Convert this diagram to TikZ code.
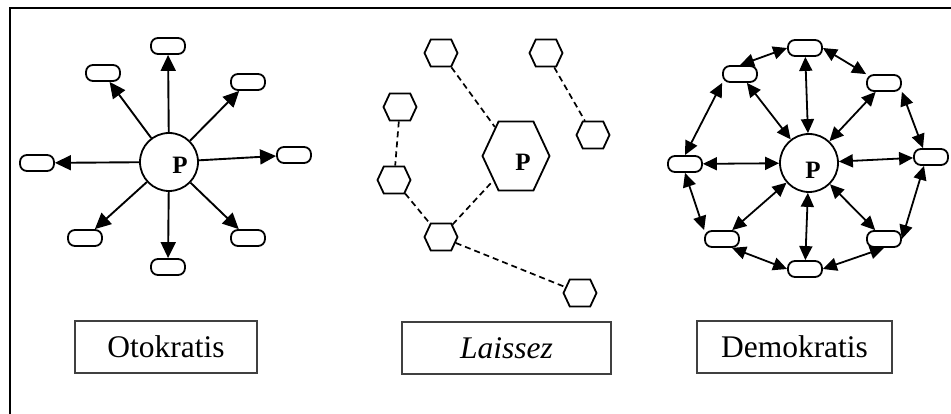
\documentclass[tikz,border=0pt]{standalone}
\usepackage{fontspec}
\setmainfont{Liberation Serif}
\usetikzlibrary{arrows.meta,shapes.symbols}
\tikzset{
  pill/.style={draw, line width=1.8pt, rectangle, rounded corners=7pt, minimum width=34pt, minimum height=16pt, inner sep=0pt, fill=white},
  pcirc/.style={draw, line width=1.8pt, circle, minimum size=58pt, inner sep=0pt},
  hexa/.style={draw, line width=1.8pt, signal, signal to=east and west, signal pointer angle=130, minimum width=33pt, minimum height=27pt, inner sep=0pt},
  bighexa/.style={hexa, minimum width=67pt, minimum height=69pt},
  oarrow/.style={line width=1.9pt, -{Triangle[length=16pt,width=15pt]}},
  darrow/.style={line width=1.8pt, {Triangle[length=14pt,width=13pt]}-{Triangle[length=14pt,width=13pt]}},
  dline/.style={line width=1.7pt, dash pattern=on 6pt off 4pt},
  labelbox/.style={draw=black!75, line width=1.1pt, rectangle, inner sep=0pt, font=\fontsize{31.5}{36}\selectfont},
  pletter/.style={font=\fontsize{25}{27}\selectfont\bfseries},
  frameline/.style={line width=2.4pt}
}
\begin{document}
\begin{tikzpicture}[x=1pt,y=-1pt]
\useasboundingbox (0,0) rectangle (951,414);
% frame
\coordinate (fa) at (951,8);
\coordinate (fb) at (10,8);
\coordinate (fc) at (10,414);
\draw[frameline] (fa) -- (fb) -- (fc);

% ---------- Otokratis ----------
\node[pcirc] (oc) at (169,162) {};
\node[pletter] (op) at (180,165) {P};
\node[pill] (o1) at (168,46) {};
\node[pill] (o2) at (103,73) {};
\node[pill] (o3) at (248,82) {};
\node[pill] (o4) at (37,163) {};
\node[pill] (o5) at (294,155) {};
\node[pill] (o6) at (85,238) {};
\node[pill] (o7) at (248,238) {};
\node[pill] (o8) at (168,267) {};
\foreach \t in {o1,o2,o3,o4,o5,o6,o7,o8}
  \draw[oarrow] (oc) -- (\t);

% ---------- Laissez ----------
\node[hexa] (h1) at (441,53) {};
\node[hexa] (h2) at (546,53) {};
\node[hexa] (h3) at (400,107) {};
\node[hexa] (h4) at (593,135) {};
\node[bighexa] (hp) at (516,156) {};
\node[pletter] (lp) at (523,162) {P};
\node[hexa] (h5) at (394,180) {};
\node[hexa] (h6) at (441,237) {};
\node[hexa] (h7) at (580,293) {};
\draw[dline] (h1) -- (hp);
\draw[dline] (h2) -- (h4);
\draw[dline] (h3) -- (h5);
\draw[dline] (h5) -- (h6);
\draw[dline] (h6) -- (hp);
\draw[dline] (h6) -- (h7);

% ---------- Demokratis ----------
\node[pcirc] (dc) at (809,163) {};
\node[pletter] (dp) at (813,170) {P};
\node[pill] (dt) at (805,48) {};
\node[pill] (dul) at (740,74) {};
\node[pill] (dur) at (884,83) {};
\node[pill] (dl) at (685,164) {};
\node[pill] (dr) at (931,157) {};
\node[pill] (dll) at (722,239) {};
\node[pill] (dlr) at (884,239) {};
\node[pill] (db) at (805,269) {};
\foreach \t in {dt,dul,dur,dl,dr,dll,dlr,db}
  \draw[darrow] (dc) -- (\t);
\draw[darrow] (dul.north) -- (dt.west);
\draw[darrow] (dt.east) -- (dur.north west);
\draw[darrow] (dur.south east) -- ([xshift=-8pt]dr.north);
\draw[darrow] ([xshift=-7pt]dr.south) -- (dlr.east);
\draw[darrow] (dlr.south) -- (db.east);
\draw[darrow] (db.west) -- ([xshift=10pt]dll.south);
\draw[darrow] (dll.north west) -- (dl.south);
\draw[darrow] (dl.north) -- (dul.south west);

% ---------- labels ----------
\node[labelbox, minimum width=182pt, minimum height=52pt] (lo) at (166,347) {Otokratis};
\node[labelbox, minimum width=209pt, minimum height=52pt] (ll) at (506.5,348) {\itshape Laissez};
\node[labelbox, minimum width=195pt, minimum height=52pt] (lde) at (794.5,347) {Demokratis};
\end{tikzpicture}
\end{document}
